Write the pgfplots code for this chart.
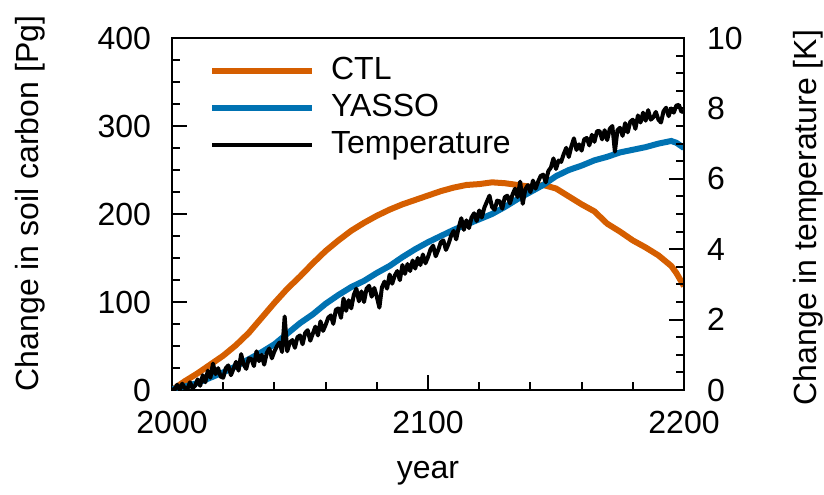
\documentclass[border=0pt]{standalone}
\usepackage{fontspec}
\setmainfont{Liberation Sans}
\usepackage{pgfplots}
\pgfplotsset{compat=1.18}
\definecolor{ctl}{RGB}{213,94,0}
\definecolor{yasso}{RGB}{0,114,178}

\pgfplotstableread{
year ctl yasso
2000 0 1
2005 10 4
2010 19 8
2015 29 14
2020 39 20
2025 51 27
2030 65 35
2035 82 43
2040 99 52
2045 115 64
2050 129 76
2055 144 86
2060 158 98
2065 170 108
2070 181 117
2075 190 124
2080 198 133
2085 205 141
2090 211 151
2095 216 160
2100 221 168
2105 226 175
2110 230 182
2115 233 188
2120 234 194
2125 236 200
2130 235 208
2135 233 217
2140 231 225
2145 233 233
2150 229 243
2155 220 250
2160 211 255
2165 203 261
2170 189 265
2175 180 270
2180 170 273
2185 162 276
2190 153 280
2195 141 283
2197 133 281
2200 118 275
}\soil

\pgfplotstableread{
year temp
2000 0.05
2001 0.00
2002 0.15
2003 0.00
2004 0.18
2005 0.05
2006 0.02
2007 0.22
2008 0.05
2009 0.12
2010 0.30
2011 0.12
2012 0.42
2013 0.22
2014 0.55
2015 0.35
2016 0.75
2017 0.45
2018 0.62
2019 0.38
2020 0.35
2021 0.62
2022 0.70
2023 0.42
2024 0.60
2025 0.80
2026 0.55
2027 1.02
2028 0.72
2029 0.60
2030 0.90
2031 0.88
2032 0.68
2033 1.10
2034 0.82
2035 1.00
2036 0.72
2037 1.05
2038 1.18
2039 0.90
2040 1.10
2041 1.25
2042 1.35
2043 1.08
2044 2.09
2045 1.10
2046 1.35
2047 1.42
2048 1.20
2049 1.50
2050 1.55
2051 1.30
2052 1.62
2053 1.70
2054 1.40
2055 1.60
2056 1.80
2057 1.55
2058 1.95
2059 1.68
2060 1.85
2061 2.05
2062 2.12
2063 1.88
2064 2.28
2065 2.32
2066 2.05
2067 2.60
2068 2.25
2069 2.55
2070 2.32
2071 2.70
2072 2.88
2073 2.52
2074 2.80
2075 2.50
2076 2.88
2077 2.96
2078 2.65
2079 2.90
2080 2.65
2081 2.34
2082 2.92
2083 3.08
2084 2.88
2085 3.28
2086 3.02
2087 3.25
2088 3.38
2089 3.12
2090 3.55
2091 3.30
2092 3.58
2093 3.38
2094 3.68
2095 3.45
2096 3.75
2097 3.55
2098 3.85
2099 3.60
2100 3.78
2101 4.00
2102 4.10
2103 3.80
2104 3.98
2105 4.20
2106 4.25
2107 3.98
2108 4.15
2109 4.38
2110 4.52
2111 4.28
2112 4.62
2113 4.88
2114 4.55
2115 4.82
2116 4.60
2117 4.90
2118 5.02
2119 4.80
2120 5.10
2121 4.90
2122 5.18
2123 5.35
2124 5.52
2125 5.20
2126 5.12
2127 5.38
2128 5.36
2129 5.15
2130 5.48
2131 5.52
2132 5.30
2133 5.55
2134 5.72
2135 5.48
2136 5.92
2137 5.29
2138 5.70
2139 5.82
2140 5.62
2141 5.95
2142 5.72
2143 5.92
2144 6.08
2145 6.12
2146 5.90
2147 6.22
2148 6.32
2149 6.58
2150 6.28
2151 6.52
2152 6.48
2153 6.70
2154 6.88
2155 6.62
2156 6.92
2157 7.15
2158 6.82
2159 6.98
2160 6.80
2161 7.12
2162 7.16
2163 6.95
2164 7.25
2165 7.05
2166 7.35
2167 7.36
2168 7.12
2169 7.38
2170 7.10
2171 7.42
2172 7.50
2173 6.77
2174 7.38
2175 7.45
2176 7.22
2177 7.58
2178 7.32
2179 7.62
2180 7.68
2181 7.42
2182 7.80
2183 7.60
2184 7.88
2185 7.65
2186 7.95
2187 7.68
2188 7.75
2189 7.90
2190 7.68
2191 7.60
2192 7.92
2193 8.02
2194 7.78
2195 8.00
2196 7.88
2197 8.08
2198 8.10
2199 7.90
2200 7.92
}\temp

\begin{document}
\fontsize{16}{19}\selectfont
\begin{tikzpicture}
\pgfplotsset{
  every axis/.append style={
    scale only axis, width=256pt, height=176pt,
    xmin=2000, xmax=2200,
    axis line style={line width=1.2pt},
    every tick/.style={line width=1pt, black},
    major tick length=7.5pt, minor tick length=4pt,
    /pgf/number format/assume math mode=true,
    /pgf/number format/1000 sep={},
    tick label style={font=\fontsize{16}{19}\selectfont},
    label style={font=\fontsize{16}{19}\selectfont},
  }
}
\begin{axis}[
  ymin=0, ymax=400, ytick={0,100,...,400}, minor y tick num=3,
  xtick={2000,2100,2200}, minor x tick num=4,
  xtick pos=left, ytick pos=left,
  xticklabel style={yshift=-5pt},
  yticklabel style={xshift=-5pt},
  xlabel={year}, ylabel={Change in soil carbon [Pg]},
  xlabel style={at={(axis description cs:0.5,-0.235)}, anchor=center},
  ylabel style={at={(axis description cs:-0.277,0.53)}, anchor=center},
  legend style={at={(rel axis cs:0.06,0.97)}, anchor=north west, draw=none, fill=none,
    font=\fontsize{16}{19}\selectfont, row sep=1pt},
  legend cell align=left,
  legend image code/.code={\draw[#1] (0pt,0pt) -- (50pt,0pt); \path (56pt,0pt);},
]
\addplot[ctl, line width=3pt] table[x=year, y=ctl] {\soil};
\addlegendentry{CTL}
\addplot[yasso, line width=3pt] table[x=year, y=yasso] {\soil};
\addlegendentry{YASSO}
\addlegendimage{black, line width=2pt}
\addlegendentry{Temperature}
\coordinate (bbsw) at (rel axis cs:-0.336,-0.298);
\coordinate (bbne) at (rel axis cs:1.2734,1.108);
\end{axis}
\begin{axis}[
  ymin=0, ymax=10, ytick={0,2,...,10}, minor y tick num=3,
  axis y line*=right, axis x line=none,
  yticklabel style={xshift=6pt},
  ylabel={Change in temperature [K]},
  ylabel style={at={(axis description cs:1.242,0.49)}, anchor=center, rotate=0},
]
\addplot[black, line width=2pt, line join=round] table[x=year, y=temp] {\temp};
\end{axis}
\pgfresetboundingbox
\useasboundingbox (bbsw) rectangle (bbne);
\end{tikzpicture}
\end{document}
